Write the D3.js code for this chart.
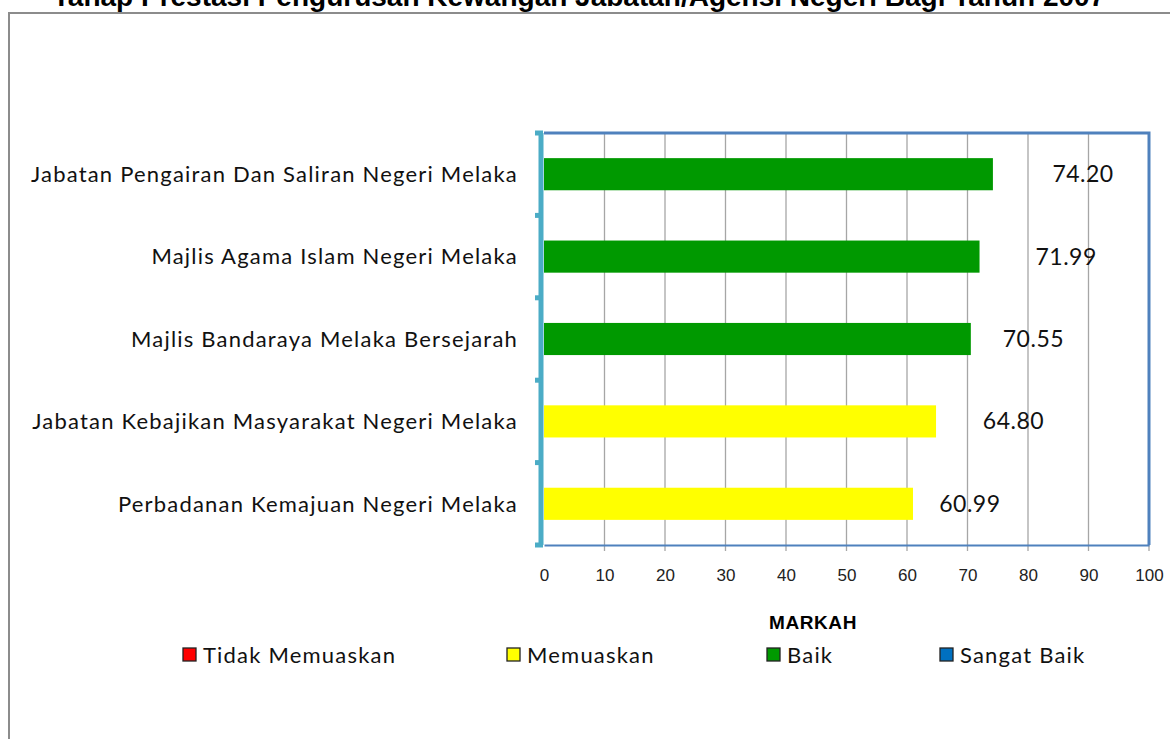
<!DOCTYPE html>
<html>
<head>
<meta charset="utf-8">
<script src="https://cdn.jsdelivr.net/npm/d3@7"></script>
<style>
  body { margin: 0; background: #fff; }
  svg { display: block; }
</style>
</head>
<body>
<script>
const width = 1170
const height = 739

// data
const agencies = [
  'Jabatan Pengairan Dan Saliran Negeri Melaka',
  'Majlis Agama Islam Negeri Melaka',
  'Majlis Bandaraya Melaka Bersejarah',
  'Jabatan Kebajikan Masyarakat Negeri Melaka',
  'Perbadanan Kemajuan Negeri Melaka'
]
const scores = [74.20, 71.99, 70.55, 64.80, 60.99]
const grades = ['Baik', 'Baik', 'Baik', 'Memuaskan', 'Memuaskan']
const xTicks = [0, 10, 20, 30, 40, 50, 60, 70, 80, 90, 100]
const legendNames = ['Tidak Memuaskan', 'Memuaskan', 'Baik', 'Sangat Baik']
const legendColors = ['#ff0000', '#ffff00', '#009900', '#0070c0']

// where the value labels sit (in axis units, centre of text)
const labelAt = [89.1, 86.3, 80.9, 77.6, 70.4]

const colorOf = d3.scaleOrdinal().domain(legendNames).range(legendColors)

const svg = d3.select('body').append('svg')
    .attr('width', width)
    .attr('height', height)

// outer frame
svg.append('path')
    .attr('d', 'M9,' + height + ' V13 H' + width)
    .attr('fill', 'none')
    .attr('stroke', '#8c8c8c')
    .attr('stroke-width', 2)

// title, cut off at the top
svg.append('text')
    .attr('x', 579)
    .attr('y', 6)
    .attr('text-anchor', 'middle')
    .attr('font-family', 'Liberation Sans, Arial, sans-serif')
    .attr('font-weight', 'bold')
    .attr('font-size', 28)
    .text('Tahap Prestasi Pengurusan Kewangan Jabatan/Agensi Negeri Bagi Tahun 2007')

const plotL = 544, plotR = 1149, plotT = 133, plotB = 545

const x = d3.scaleLinear().domain([0, 100]).range([plotL, plotR])
const y = d3.scaleBand().domain(agencies).range([plotT, plotB]).paddingInner(0.61).paddingOuter(0.305)

// gridlines + ticks below axis
svg.append('g')
    .selectAll('line')
    .data(xTicks.slice(1))
    .join('line')
    .attr('x1', d => x(d)).attr('x2', d => x(d))
    .attr('y1', plotT).attr('y2', plotB + 6)
    .attr('stroke', '#a6a6a6')
    .attr('stroke-width', 1.3)

// bars
svg.append('g')
    .selectAll('rect')
    .data(agencies)
    .join('rect')
    .attr('x', x(0))
    .attr('y', d => y(d))
    .attr('width', (d, i) => x(scores[i]) - x(0))
    .attr('height', y.bandwidth())
    .attr('fill', (d, i) => colorOf(grades[i]))

// top + right frame of plot
svg.append('path')
    .attr('d', 'M' + plotL + ',' + plotT + ' H' + plotR + ' V' + plotB)
    .attr('fill', 'none')
    .attr('stroke', '#4f81bd')
    .attr('stroke-width', 3)

// bottom axis
const xAxis = d3.axisBottom(x)
    .tickValues(xTicks)
    .tickSize(0)
    .tickPadding(24)

const gx = svg.append('g')
    .attr('transform', 'translate(0,' + plotB + ')')
    .call(xAxis)
gx.select('.domain').attr('stroke', '#4f81bd').attr('stroke-width', 2)
gx.selectAll('text')
    .attr('font-family', 'Liberation Sans Narrow, Arial Narrow, Liberation Sans, sans-serif')
    .attr('font-size', 17)
    .attr('fill', '#222')

// left axis: category boundaries
const bounds = [plotT].concat(agencies.map(d => y(d) + y.bandwidth() + y.step() * y.paddingInner() / 2))
bounds[bounds.length - 1] = plotB

svg.append('line')
    .attr('x1', plotL - 3).attr('x2', plotL - 3)
    .attr('y1', plotT).attr('y2', plotB)
    .attr('stroke', '#4bacc6')
    .attr('stroke-width', 5)

svg.append('g')
    .selectAll('line')
    .data(bounds)
    .join('line')
    .attr('x1', plotL - 9).attr('x2', plotL - 1)
    .attr('y1', d => d).attr('y2', d => d)
    .attr('stroke', '#4bacc6')
    .attr('stroke-width', 5)

// category labels
svg.append('g')
    .selectAll('text')
    .data(agencies)
    .join('text')
    .attr('x', 518)
    .attr('y', d => y(d) + y.bandwidth() / 2)
    .attr('dy', '0.35em')
    .attr('text-anchor', 'end')
    .attr('font-family', 'Lato, Open Sans, sans-serif')
    .attr('font-size', 22)
    .attr('letter-spacing', 1.2)
    .attr('fill', '#111')
    .text(d => d)

// value labels
svg.append('g')
    .selectAll('text')
    .data(scores)
    .join('text')
    .attr('x', (d, i) => x(labelAt[i]))
    .attr('y', (d, i) => y(agencies[i]) + y.bandwidth() / 2)
    .attr('dy', '0.35em')
    .attr('text-anchor', 'middle')
    .attr('font-family', 'Lato, Open Sans, sans-serif')
    .attr('font-size', 23)
    .attr('letter-spacing', 0.5)
    .attr('fill', '#111')
    .text(d => d.toFixed(2))

// axis title
svg.append('text')
    .attr('x', 813)
    .attr('y', 629)
    .attr('text-anchor', 'middle')
    .attr('font-family', 'Liberation Sans, Arial, sans-serif')
    .attr('font-weight', 'bold')
    .attr('font-size', 19)
    .attr('letter-spacing', 0.6)
    .text('MARKAH')

// legend
const legendX = [183, 507, 767, 940]
const lg = svg.append('g')
    .selectAll('g')
    .data(legendNames)
    .join('g')
    .attr('transform', (d, i) => 'translate(' + legendX[i] + ',648)')
lg.append('rect')
    .attr('width', 13).attr('height', 13)
    .attr('fill', d => colorOf(d))
    .attr('stroke', '#222')
    .attr('stroke-width', 1.3)
lg.append('text')
    .attr('x', 20)
    .attr('y', 7)
    .attr('dy', '0.35em')
    .attr('font-family', 'Lato, Open Sans, sans-serif')
    .attr('font-size', 22)
    .attr('letter-spacing', 1.2)
    .attr('fill', '#111')
    .text(d => d)
</script>
</body>
</html>
